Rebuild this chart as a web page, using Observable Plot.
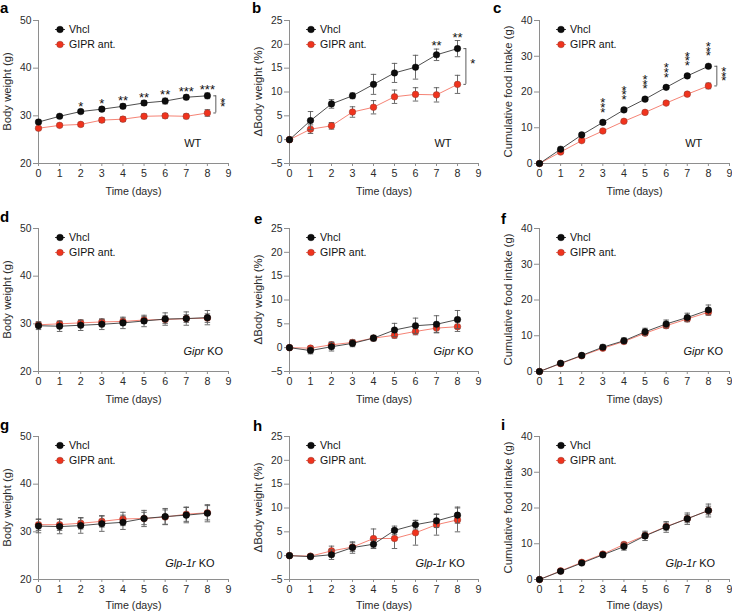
<!DOCTYPE html>
<html><head><meta charset="utf-8">
<script src="https://cdn.jsdelivr.net/npm/d3@7"></script>
<script src="https://cdn.jsdelivr.net/npm/@observablehq/plot@0.6"></script>
<style>
body{margin:0;background:#fff;}
#wrap{position:relative;width:732px;height:612px;overflow:hidden;font-family:"Liberation Sans",Arial,sans-serif;}
.panel{position:absolute;}
.letter{position:absolute;font-weight:bold;font-size:15px;line-height:15px;color:#000;}
</style></head><body><div id="wrap"></div>
<script>
const days = [0, 1, 2, 3, 4, 5, 6, 7, 8];
const xTicks = [0, 1, 2, 3, 4, 5, 6, 7, 8, 9];

// a: WT body weight (g)
const wtBwVhcl = [28.7, 29.9, 30.9, 31.4, 32.0, 32.7, 33.1, 33.9, 34.2];
const wtBwVhclErr = [0.4, 0.3, 0.3, 0.4, 0.5, 0.5, 0.6, 0.5, 0.6];
const wtBwGipr = [27.4, 28.0, 28.2, 29.1, 29.3, 29.9, 30.0, 29.9, 30.6];
const wtBwGiprErr = [0.3, 0.3, 0.4, 0.5, 0.5, 0.5, 0.5, 0.5, 0.7];
const wtBwStars = ["", "", "*", "*", "**", "**", "**", "***", "***"];

// b: WT delta body weight (%)
const wtDVhcl = [0, 4.0, 7.5, 9.2, 11.6, 14.0, 15.2, 17.8, 19.1];
const wtDVhclErr = [0, 1.9, 0.9, 0.6, 2.1, 2.0, 2.5, 1.2, 1.7];
const wtDGipr = [0, 2.2, 2.9, 5.8, 6.8, 9.0, 9.5, 9.4, 11.6];
const wtDGiprErr = [0, 0.9, 0.7, 1.1, 1.4, 1.4, 1.4, 1.5, 1.9];
const wtDStars = ["", "", "", "", "", "", "", "**", "**"];

// c: WT cumulative food intake (g)
const wtFiVhcl = [0, 4.0, 8.0, 11.5, 15.0, 18.0, 21.3, 24.5, 27.2];
const wtFiVhclErr = [0, 0.3, 0.3, 0.4, 0.4, 0.3, 0.4, 0.4, 0.4];
const wtFiGipr = [0, 3.2, 6.4, 9.1, 11.8, 14.3, 16.9, 19.4, 21.7];
const wtFiGiprErr = [0, 0.3, 0.3, 0.3, 0.3, 0.3, 0.4, 0.4, 0.8];
const wtFiStars = ["", "", "", "***", "***", "***", "***", "***", "***"];

// d: Gipr KO body weight (g)
const giprBwVhcl = [29.6, 29.5, 29.7, 29.9, 30.2, 30.6, 31.0, 31.1, 31.3];
const giprBwVhclErr = [0.8, 1.1, 1.1, 1.1, 1.2, 1.2, 1.3, 1.4, 1.5];
const giprBwGipr = [29.8, 30.0, 30.2, 30.4, 30.5, 30.8, 30.9, 31.1, 31.2];
const giprBwGiprErr = [0.6, 0.5, 0.6, 0.6, 0.7, 0.7, 0.8, 0.8, 0.9];

// e: Gipr KO delta body weight (%)
const giprDVhcl = [0, -0.6, 0.2, 0.9, 2.0, 3.7, 4.6, 4.9, 5.9];
const giprDVhclErr = [0, 0.7, 0.9, 0.7, 0.6, 1.4, 1.6, 1.8, 1.9];
const giprDGipr = [0, -0.1, 0.6, 1.1, 2.0, 2.6, 3.4, 4.1, 4.4];
const giprDGiprErr = [0, 0.4, 0.6, 0.5, 0.5, 0.6, 0.7, 0.9, 1.0];

// f: Gipr KO cumulative food intake (g)
const giprFiVhcl = [0, 2.3, 4.5, 6.8, 8.6, 11.1, 13.3, 15.1, 17.2];
const giprFiVhclErr = [0, 0.2, 0.3, 0.6, 0.8, 1.0, 1.1, 1.2, 1.4];
const giprFiGipr = [0, 2.2, 4.4, 6.5, 8.4, 10.7, 12.8, 14.7, 16.6];
const giprFiGiprErr = [0, 0.2, 0.3, 0.4, 0.5, 0.6, 0.6, 0.7, 0.8];

// g: Glp-1r KO body weight (g)
const glpBwVhcl = [31.2, 31.1, 31.3, 31.7, 32.0, 32.8, 33.2, 33.5, 33.9];
const glpBwVhclErr = [1.4, 1.5, 1.6, 1.6, 1.5, 1.7, 1.7, 1.6, 1.8];
const glpBwGipr = [31.5, 31.5, 31.8, 32.2, 32.7, 32.8, 33.1, 33.7, 34.0];
const glpBwGiprErr = [1.2, 1.2, 1.2, 1.2, 1.4, 1.3, 1.5, 1.5, 1.5];

// h: Glp-1r KO delta body weight (%)
const glpDVhcl = [0, -0.2, 0.2, 1.7, 2.4, 5.3, 6.5, 7.3, 8.5];
const glpDVhclErr = [0, 0.5, 1.0, 1.2, 0.9, 0.9, 0.9, 1.4, 1.7];
const glpDGipr = [0, -0.1, 1.0, 1.8, 3.6, 3.6, 4.8, 6.5, 7.5];
const glpDGiprErr = [0, 0.3, 1.0, 0.9, 2.0, 2.1, 2.6, 2.2, 2.5];

// i: Glp-1r KO cumulative food intake (g)
const glpFiVhcl = [0, 2.3, 4.6, 6.9, 9.2, 12.2, 14.7, 17.0, 19.3];
const glpFiVhclErr = [0, 0.3, 0.4, 0.6, 1.0, 1.3, 1.5, 1.6, 1.8];
const glpFiGipr = [0, 2.4, 4.8, 7.1, 9.8, 12.3, 14.8, 17.0, 19.3];
const glpFiGiprErr = [0, 0.3, 0.3, 0.5, 0.6, 0.8, 1.0, 1.1, 1.2];

const bwLabel = "Body weight (g)", dLabel = "ΔBody weight (%)", fiLabel = "Cumulative food intake (g)";
const bwTicks = [20, 30, 40, 50], dTicks = [-5, 0, 5, 10, 15, 20, 25], fiTicks = [0, 10, 20, 30, 40];
const seriesNames = ["Vhcl", "GIPR ant."];

const panels = [
  {letter: "a", row: 0, col: 0, label: bwLabel, ticks: bwTicks, v: wtBwVhcl, ve: wtBwVhclErr, g: wtBwGipr, ge: wtBwGiprErr, stars: wtBwStars, starsRot: false, bracket: "**", bracketRot: true, note: "WT"},
  {letter: "b", row: 0, col: 1, label: dLabel, ticks: dTicks, v: wtDVhcl, ve: wtDVhclErr, g: wtDGipr, ge: wtDGiprErr, stars: wtDStars, starsRot: false, bracket: "*", bracketRot: false, note: "WT"},
  {letter: "c", row: 0, col: 2, label: fiLabel, ticks: fiTicks, v: wtFiVhcl, ve: wtFiVhclErr, g: wtFiGipr, ge: wtFiGiprErr, stars: wtFiStars, starsRot: true, bracket: "***", bracketRot: true, note: "WT"},
  {letter: "d", row: 1, col: 0, label: bwLabel, ticks: bwTicks, v: giprBwVhcl, ve: giprBwVhclErr, g: giprBwGipr, ge: giprBwGiprErr, noteIt: "Gipr", note: "KO"},
  {letter: "e", row: 1, col: 1, label: dLabel, ticks: dTicks, v: giprDVhcl, ve: giprDVhclErr, g: giprDGipr, ge: giprDGiprErr, noteIt: "Gipr", note: "KO"},
  {letter: "f", row: 1, col: 2, label: fiLabel, ticks: fiTicks, v: giprFiVhcl, ve: giprFiVhclErr, g: giprFiGipr, ge: giprFiGiprErr, noteIt: "Gipr", note: "KO"},
  {letter: "g", row: 2, col: 0, label: bwLabel, ticks: bwTicks, v: glpBwVhcl, ve: glpBwVhclErr, g: glpBwGipr, ge: glpBwGiprErr, noteIt: "Glp-1r", note: "KO"},
  {letter: "h", row: 2, col: 1, label: dLabel, ticks: dTicks, v: glpDVhcl, ve: glpDVhclErr, g: glpDGipr, ge: glpDGiprErr, noteIt: "Glp-1r", note: "KO"},
  {letter: "i", row: 2, col: 2, label: fiLabel, ticks: fiTicks, v: glpFiVhcl, ve: glpFiVhclErr, g: glpFiGipr, ge: glpFiGiprErr, noteIt: "Glp-1r", note: "KO"}
];

// layout
const colLeft = [0, 240, 480], colML = [38, 49, 59], colW = [240, 250, 252], colPlotW = [190, 189, 190];
const rowTop = [0, 208, 416], rowXLabelOffset = [31, 31, 29];
const letterPos = {a: [0, 0], b: [252, 0], c: [493, 0], d: [0, 209], e: [254, 211], f: [501, 211], g: [0, 417], h: [253, 418], i: [501, 417]};
const noteX = [[6.9, 6.9, 6.9], [7.85, 7.85, 7.8], [7.45, 7.45, 7.42]];
const noteDy = [123, 123, 127];

const axisC = "#8e8e8e", textC = "#2a2a2a", errC = "#5a5a5a", starC = "#111";
const vFill = "#0d0d0d", vLine = "#3a3a3a", gFill = "#f0331d", gLine = "#f47565", gStroke = "#8a3a30";
const FONT = "Liberation Sans, Arial, sans-serif";

const wrap = document.getElementById("wrap");

// vertical stack of asterisks (instead of rotated text)
const stack = s => s.split("").join("\n");

function errMarks(data, yk, ek, color) {
  const d = data.filter(r => r[ek] > 0);
  const cap = 0.13;
  return [
    Plot.ruleX(d, {x: "day", y1: r => r[yk] - r[ek], y2: r => r[yk] + r[ek], stroke: color, strokeWidth: 0.9}),
    Plot.link(d, {x1: r => r.day - cap, x2: r => r.day + cap, y1: r => r[yk] + r[ek], y2: r => r[yk] + r[ek], stroke: color, strokeWidth: 0.9}),
    Plot.link(d, {x1: r => r.day - cap, x2: r => r.day + cap, y1: r => r[yk] - r[ek], y2: r => r[yk] - r[ek], stroke: color, strokeWidth: 0.9})
  ];
}

panels.forEach(p => {
  const c = p.col, r = p.row;
  const data = days.map((d, i) => ({day: d, v: p.v[i], ve: p.ve[i], g: p.g[i], ge: p.ge[i], star: p.stars ? p.stars[i] : ""}));
  const ymin = p.ticks[0], ymax = p.ticks[p.ticks.length - 1];
  const starStyle = {fontSize: 13, fill: starC, textAnchor: "middle", lineAnchor: "middle"};
  const marks = [
    Plot.ruleX([0], {stroke: axisC, strokeWidth: 1}),
    Plot.ruleY([ymin], {stroke: axisC, strokeWidth: 1}),
    Plot.axisX({ticks: xTicks, tickSize: 3, tickPadding: 3, stroke: axisC, fill: textC, label: "Time (days)", labelAnchor: "center", labelOffset: rowXLabelOffset[r], labelArrow: false, fontSize: 10.7}),
    Plot.axisY({ticks: p.ticks, tickSize: 5, tickPadding: 2, stroke: axisC, fill: textC, label: null, fontSize: 10.3}),
    // GIPR ant.
    Plot.line(data, {x: "day", y: "g", stroke: gLine, strokeWidth: 0.9}),
    ...errMarks(data, "g", "ge", errC),
    Plot.dot(data, {x: "day", y: "g", r: 3.3, fill: gFill, stroke: gStroke, strokeWidth: 0.5}),
    // Vhcl
    Plot.line(data, {x: "day", y: "v", stroke: vLine, strokeWidth: 0.9}),
    ...errMarks(data, "v", "ve", errC),
    Plot.dot(data, {x: "day", y: "v", r: 3.3, fill: vFill, stroke: "#000", strokeWidth: 0.4})
  ];
  if (p.stars) {
    const sd = data.filter(rr => rr.star);
    if (p.starsRot) {
      marks.push(Plot.text(sd, {x: "day", y: "v", text: rr => stack(rr.star), lineHeight: 0.36, dy: -12, ...starStyle}));
    } else {
      marks.push(Plot.text(sd, {x: "day", y: rr => rr.v + rr.ve, text: "star", dy: -3, ...starStyle}));
    }
    const last = data[data.length - 1];
    const bx = 8.4;
    marks.push(Plot.ruleX([last], {x: () => bx, y1: "g", y2: "v", stroke: "#333", strokeWidth: 0.8}));
    marks.push(Plot.link([last.g, last.v], {x1: () => bx - 0.12, x2: () => bx, y1: d => d, y2: d => d, stroke: "#333", strokeWidth: 0.8}));
    marks.push(Plot.text([last], {x: () => bx, y: rr => (rr.g + rr.v) / 2, text: () => p.bracketRot ? stack(p.bracket) : p.bracket, lineHeight: 0.36, dx: 7, dy: p.bracketRot ? 3 : 0, ...starStyle}));
  }
  const nx = noteX[r][c];
  if (p.noteIt) {
    marks.push(Plot.text([p.noteIt], {x: () => nx, text: d => d, frameAnchor: "top", dy: noteDy[r], textAnchor: "end", lineAnchor: "middle", fontStyle: "italic", fontSize: 11, fill: "#111"}));
    marks.push(Plot.text([p.note], {x: () => nx, text: d => d, frameAnchor: "top", dy: noteDy[r], dx: 3, textAnchor: "start", lineAnchor: "middle", fontSize: 11, fill: "#111"}));
  } else {
    marks.push(Plot.text([p.note], {x: () => nx, text: d => d, frameAnchor: "top", dy: noteDy[r], textAnchor: "start", lineAnchor: "middle", fontSize: 11, fill: "#111"}));
  }
  const ml = colML[c], w = colW[c];
  const plot = Plot.plot({
    width: w, height: 203,
    marginLeft: ml, marginRight: w - ml - colPlotW[c], marginTop: 20, marginBottom: 40,
    x: {domain: [0, 9], axis: null},
    y: {domain: [ymin, ymax], axis: null},
    style: {fontFamily: FONT, fontSize: "10.5px", overflow: "visible", background: "transparent", color: textC},
    marks
  });
  const svg = d3.select(plot);
  // y-axis title
  svg.append("text")
    .attr("transform", `translate(${ml - 31},${20 + 71.5}) rotate(-90)`)
    .attr("text-anchor", "middle").attr("dy", "0.35em")
    .attr("font-size", 11.3).attr("fill", textC).text(p.label);
  // legend
  const lx = ml + 22, ly0 = 20 + 9.5;
  [[seriesNames[0], vFill, vLine, "#000"], [seriesNames[1], gFill, gLine, gStroke]].forEach(([t, fill, line, stroke], k) => {
    const y = ly0 + k * 15;
    const gg = svg.append("g");
    gg.append("line").attr("x1", lx - 5).attr("x2", lx + 5).attr("y1", y).attr("y2", y).attr("stroke", line).attr("stroke-width", 1);
    gg.append("circle").attr("cx", lx).attr("cy", y).attr("r", 3.3).attr("fill", fill).attr("stroke", stroke).attr("stroke-width", 0.5);
    gg.append("text").attr("x", lx + 9).attr("y", y).attr("dy", "0.35em").attr("text-anchor", "start").attr("font-size", 10.6).attr("fill", "#111").text(t);
  });
  const div = document.createElement("div");
  div.className = "panel";
  div.style.left = colLeft[c] + "px";
  div.style.top = rowTop[r] + "px";
  div.appendChild(plot);
  wrap.appendChild(div);
  const lt = document.createElement("div");
  lt.className = "letter";
  lt.textContent = p.letter;
  lt.style.left = letterPos[p.letter][0] + "px";
  lt.style.top = letterPos[p.letter][1] + "px";
  wrap.appendChild(lt);
});
</script></body></html>
